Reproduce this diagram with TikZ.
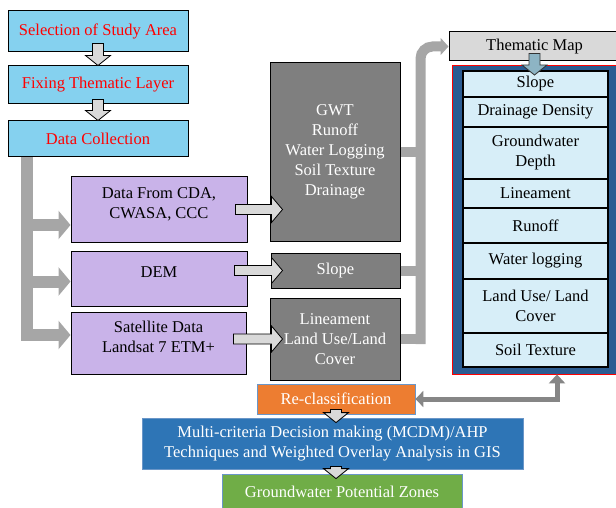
\documentclass[tikz,border=0pt]{standalone}
\usepackage{fontspec}
\setmainfont{Liberation Serif}
\usetikzlibrary{calc}
\usetikzlibrary{positioning}
\usetikzlibrary{arrows.meta}

\definecolor{skyfill}{HTML}{85D1EF}
\definecolor{lilac}{HTML}{C9B3E9}
\definecolor{darkbox}{HTML}{7F7F7F}
\definecolor{lightgrey}{HTML}{D9D9D9}
\definecolor{pipegrey}{HTML}{A6A6A6}
\definecolor{arrowgrey}{HTML}{868686}
\definecolor{navy}{HTML}{2B5C92}
\definecolor{rowblue}{HTML}{D7EEF8}
\definecolor{orangebox}{HTML}{ED7D31}
\definecolor{mcdmblue}{HTML}{2E75B6}
\definecolor{greenbox}{HTML}{70AD47}
\definecolor{tealarrow}{HTML}{8DB4C4}
\definecolor{edgeblue}{HTML}{6A96C8}

\tikzset{
  box/.style={rectangle, draw=black, line width=1pt, align=center, font=\fontsize{16.5}{20}\selectfont},
  stepbox/.style={box, fill=skyfill, text=red},
  inputbox/.style={box, fill=lilac, text depth=12pt},
  layerbox/.style={box, fill=darkbox, text=white},
  rowbox/.style={box, fill=rowblue, outer sep=0pt, minimum width=145, line width=1.2pt},
  outbox/.style={box, draw=edgeblue, text=white, line width=0.8pt},
  hollow/.style={draw=black, fill=lightgrey, line width=0.8pt},
  tealhollow/.style={draw=black!80, fill=tealarrow, line width=0.8pt},
  pipe/.style={draw=pipegrey, line width=12pt},
}

% block arrows: start point, tip point
\newcommand{\blockdown}[3][hollow]{%
  \draw[#1] ($(#2)+(-5.5,0)$) -- ($(#3)+(-5.5,-10)$) -- ($(#3)+(-12.5,-10)$) -- (#3)
    -- ($(#3)+(12.5,-10)$) -- ($(#3)+(5.5,-10)$) -- ($(#2)+(5.5,0)$) -- cycle;}
\newcommand{\blockright}[2]{%
  \draw[hollow] ($(#1)+(0,-5)$) -- ($(#2)+(-11,-5)$) -- ($(#2)+(-11,-13)$) -- (#2)
    -- ($(#2)+(-11,13)$) -- ($(#2)+(-11,5)$) -- ($(#1)+(0,5)$) -- cycle;}

\begin{document}
\begin{tikzpicture}[x=1pt, y=-1pt]
    \useasboundingbox (0,0) rectangle (616,508);

    % steps
    \node[stepbox, minimum width=180, minimum height=41] (sel) at (98,31.5) {Selection of Study Area};
    \node[stepbox, minimum width=180, minimum height=38] (fix) at (98,85) {Fixing Thematic Layer};
    \node[stepbox, minimum width=180, minimum height=36] (coll) at (98,139) {Data Collection};

    % data sources
    \node[inputbox, minimum width=176, minimum height=65] (cda) at (159,209.5) {Data From CDA,\\CWASA, CCC};
    \node[inputbox, minimum width=176, minimum height=55] (dem) at (159,278.5) {DEM};
    \node[inputbox, minimum width=175, minimum height=62] (sat) at (158.5,343) {Satellite Data\\Landsat 7 ETM+};

    % layers
    \node[layerbox, minimum width=130, minimum height=178] (gwt) at (335,152) {GWT\\Runoff\\Water Logging\\Soil Texture\\Drainage};
    \node[layerbox, minimum width=129, minimum height=35] (slp) at (335.5,270.5) {Slope};
    \node[layerbox, minimum width=130, minimum height=82] (lin) at (335,339) {Lineament\\Land Use/Land\\Cover};

    % thematic maps
    \node[box, fill=lightgrey, minimum width=171, minimum height=29] (tmap) at (534.5,46.5) {Thematic Map};
    \node[rectangle, draw=red, fill=navy, line width=0.8pt, minimum width=168, minimum height=309] (panel) at (536,219.5) {};
    \node[rowbox, minimum height=26] (r1) at (535.5,84) {Slope};
    \node[rowbox, minimum height=30, below=0pt of r1] (r2) {Drainage Density};
    \node[rowbox, minimum height=52, below=0pt of r2] (r3) {Groundwater\\Depth};
    \node[rowbox, minimum height=29, below=0pt of r3] (r4) {Lineament};
    \node[rowbox, minimum height=35, below=0pt of r4] (r5) {Runoff};
    \node[rowbox, minimum height=36, below=0pt of r5] (r6) {Water logging};
    \node[rowbox, minimum height=54, below=0pt of r6] (r7) {Land Use/ Land\\Cover};
    \node[rowbox, minimum height=34, below=0pt of r7] (r8) {Soil Texture};

    % analysis
    \node[outbox, fill=orangebox, minimum width=158, minimum height=30] (recl) at (336,399) {Re-classification};
    \node[outbox, fill=mcdmblue, minimum width=381, minimum height=51] (mcdm) at (332.5,443.5) {Multi-criteria Decision making (MCDM)/AHP\\Techniques and Weighted Overlay Analysis in GIS};
    \node[outbox, fill=greenbox, minimum width=240, minimum height=36] (gpz) at (342,492) {Groundwater Potential Zones};

    % trunk from data collection
    \coordinate (trunk) at ([xshift=19pt]coll.south west);
    \coordinate (in1) at ([yshift=-15.5pt]cda.west);
    \coordinate (in2) at ([yshift=-3pt]dem.west);
    \draw[pipe, -{Triangle[length=12pt,width=28pt]}] (trunk) |- ([yshift=8pt]sat.west);
    \draw[pipe, -{Triangle[length=12pt,width=28pt]}] (trunk |- in1) -- (in1);
    \draw[pipe, -{Triangle[length=12pt,width=28pt]}] (trunk |- in2) -- (in2);

    % bus to thematic map
    \coordinate (bus) at ([xshift=20pt]gwt.east);
    \draw[pipe, line width=10pt] (gwt.east) -- (bus |- gwt.east);
    \draw[pipe, line width=10pt] (slp.east) -- (bus |- slp.east);
    \draw[pipe, line width=10pt] (lin.east) -- (bus |- lin.east);
    \draw[pipe, line width=10pt, rounded corners=12pt, -{Triangle[length=8pt,width=17pt]}]
        ([yshift=-5pt]bus |- lin.east) -- (bus |- tmap.west) -- (tmap.west);

    % feedback
    \draw[draw=arrowgrey, line width=5pt, {Triangle[length=8pt,width=16pt]}-{Triangle[length=9pt,width=16pt]}]
        (recl.east) -| ([xshift=21pt]panel.south);

    % block arrows
    \blockdown{[yshift=9pt]sel.south}{fix.north}
    \blockdown{[yshift=5pt]fix.south}{coll.north}
    \coordinate (c1) at ([xshift=-12pt]cda.east);
    \coordinate (c2) at ([xshift=13pt]gwt.west |- c1);
    \blockright{c1}{c2}
    \coordinate (c3) at ([xshift=-13pt]dem.east |- slp.west);
    \coordinate (c4) at ([xshift=12pt]slp.west);
    \blockright{c3}{c4}
    \coordinate (c5) at ([xshift=-13pt]sat.east |- lin.west);
    \coordinate (c6) at ([xshift=13pt]lin.west);
    \blockright{c5}{c6}
    \coordinate (t1) at (tmap.south |- r1.north);
    \blockdown[tealhollow]{[yshift=8pt]tmap.south}{[yshift=-4pt]t1}
    \coordinate (m1) at (recl.south |- mcdm.north);
    \coordinate (m2) at (recl.south |- mcdm.south);
    \coordinate (m3) at (recl.south |- gpz.north);
    \blockdown{[yshift=5pt]recl.south}{[yshift=-5pt]m1}
    \blockdown{[yshift=3pt]m2}{[yshift=-5pt]m3}
\end{tikzpicture}
\end{document}
